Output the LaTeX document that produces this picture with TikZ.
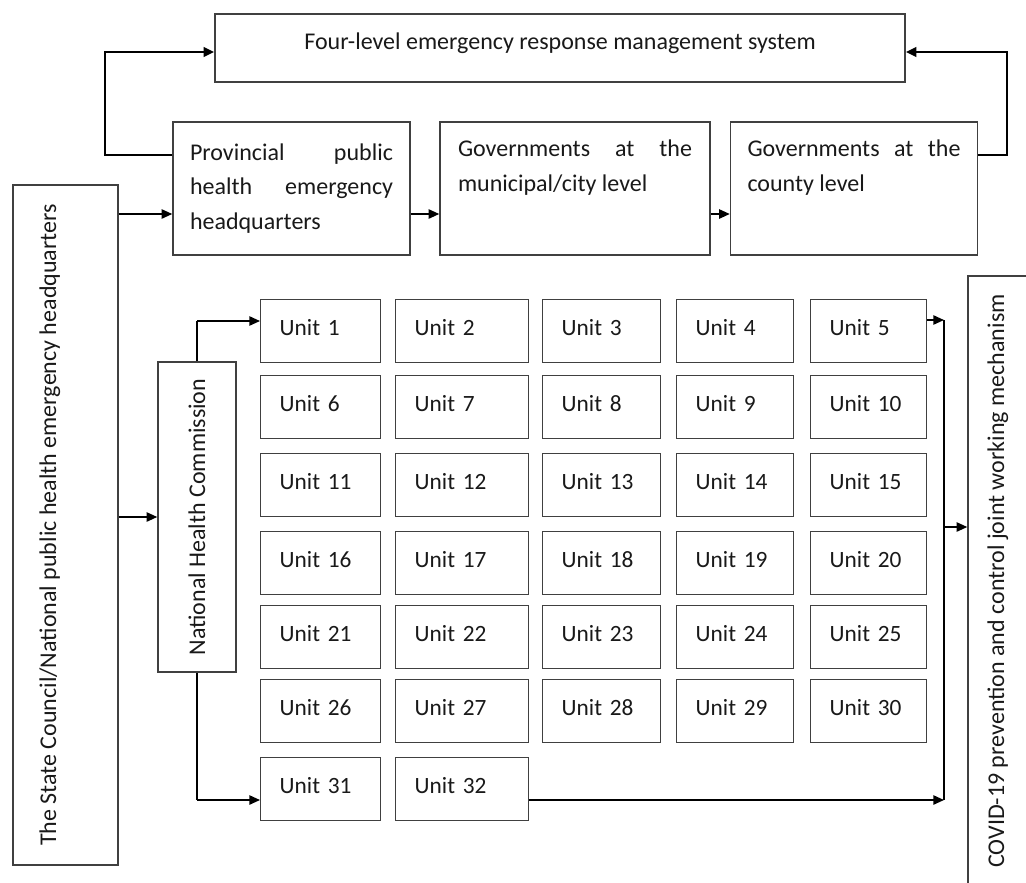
\documentclass[tikz,border=0pt]{standalone}
\usepackage{fontspec}
\setmainfont{Carlito}
\usetikzlibrary{arrows.meta}
\setlength{\parindent}{0pt}
\hyphenpenalty=10000
\exhyphenpenalty=10000

\tikzset{
  box/.style={draw=black!75, line width=1.1pt, inner sep=0pt, text=black!90,
    font=\fontsize{18}{26}\selectfont},
  textbox/.style={box, align=justify, minimum height=99.75pt},
  unitbox/.style={box, align=left, anchor=north west, minimum height=47.25pt,
    text height=13pt, text depth=7pt, inner xsep=14.25pt,
    font=\fontsize{17.5}{26}\selectfont},
  sidebox/.style={box, rotate=90},
  link/.style={draw=black, line width=1.2pt, -{Triangle[length=8pt,width=7pt]}},
  fat/.style={line width=2.2pt}
}

\begin{document}
\begin{tikzpicture}[x=0.75pt,y=0.75pt,yscale=-1,xscale=1]
\useasboundingbox (0,0) rectangle (1026,883);

%Shape: Rectangle
\node[box, minimum width=517.5pt, minimum height=51pt, text height=13pt, text depth=11.5pt] (sys) at (560,48) {Four-level emergency response management system};
%Shape: Rectangle
\node[textbox, text width=152.25pt, inner xsep=12.75pt] (prov) at (291.5,188.5) {Provincial public health emergency headquarters};
%Shape: Rectangle
\node[textbox, text width=175.5pt, inner xsep=13.5pt] (muni) at (575,188.5) {Governments at the municipal/city level\\\strut};
%Shape: Rectangle
\node[textbox, text width=159.75pt, inner xsep=12.75pt] (county) at (854,188.5) {Governments at the county level\\\strut};

%Shape: Rectangle
\node[sidebox, minimum width=510pt, minimum height=78.75pt, text height=13pt, text depth=27pt] (state) at (65.5,525) {The State Council/National public health emergency headquarters};
%Shape: Rectangle
\node[sidebox, minimum width=232.5pt, minimum height=58.5pt] (nhc) at (197,517) {National Health Commission};
%Shape: Rectangle
\node[sidebox, minimum width=457.5pt, minimum height=99pt, text height=13pt, text depth=58pt] (covid) at (1034,581) {COVID-19 prevention and control joint working mechanism};

%Shape: Rectangle (units)
\foreach \c/\xl/\w in {1/260/120, 2/395/133, 3/542/118, 4/676/117, 5/810/116} {
  \foreach \r/\yt in {0/299, 1/375, 2/453, 3/531, 4/605, 5/679} {
    \pgfmathtruncatemacro\n{5*\r+\c}
    \pgfmathsetmacro\tw{(\w-38)*0.75}
    \node[unitbox, text width=\tw pt] (u\n) at (\xl,\yt) {Unit \n};
  }
}
\node[unitbox, text width=61.5pt] (u31) at (260,757) {Unit 31};
\node[unitbox, text width=71.25pt] (u32) at (395,757) {Unit 32};

\coordinate (hiY) at (0,155);
\coordinate (loY) at (0,214);
\coordinate (leftTurn) at (105,52);
\coordinate (rightTurn) at (1007,52);
\coordinate (upY) at (0,321);
\coordinate (dnY) at (0,800);
\coordinate (busTop) at (944,320);
\coordinate (busMid) at (944,527);
\coordinate (busBot) at (944,800);

%Straight Lines
\draw[link] (state.south |- loY) -- (prov.west |- loY);
\draw[link] (prov.east |- loY) -- (muni.west |- loY);
\draw[link] (muni.east |- loY) -- (county.west |- loY);
\draw[link, fat] (prov.west |- hiY) -| (leftTurn) -- (sys.west |- leftTurn);
\draw[link, fat] (county.east |- hiY) -| (rightTurn) -- (sys.east |- rightTurn);

%Straight Lines
\draw[link] (state.south |- nhc.center) -- (nhc.north);
\draw[fat] (nhc.east) -- (nhc.east |- upY);
\draw[link] (nhc.east |- upY) -- (u1.west |- upY);
\draw[fat] (nhc.west) -- (nhc.west |- dnY);
\draw[link] (nhc.west |- dnY) -- (u31.west |- dnY);

%Straight Lines
\draw[link] (u5.east |- busTop) -- (busTop);
\draw[line width=1.2pt] (busTop) -- (busBot);
\draw[link] (u32.east |- busBot) -- (busBot);
\draw[link] (busMid) -- (covid.north |- busMid);

\end{tikzpicture}
\end{document}
